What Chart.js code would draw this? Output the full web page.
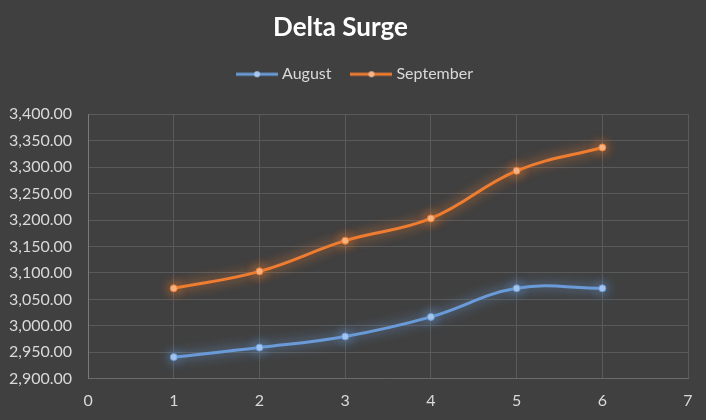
<!DOCTYPE html>
<html>
<head>
<meta charset="utf-8">
<script src="https://cdn.jsdelivr.net/npm/chart.js@4"></script>
<style>
  html, body { margin: 0; padding: 0; background: #404040; }
  #wrap { width: 706px; height: 420px; }
</style>
</head>
<body>
<div id="wrap"><canvas id="surgeChart"></canvas></div>
<script>
// chart data
const xValues = [1, 2, 3, 4, 5, 6];
const augustValues = [2941, 2959, 2980, 3017, 3071, 3071];
const septemberValues = [3071, 3103, 3161, 3203, 3293, 3337];
const seriesNames = ['August', 'September'];

const blue = '#6a9bd8';
const orange = '#ee7d31';

// little line+dot image for the legend
function legendMark(color, dot) {
  const c = document.createElement('canvas');
  c.width = 42; c.height = 10;
  const g = c.getContext('2d');
  g.strokeStyle = color;
  g.lineWidth = 3;
  g.beginPath(); g.moveTo(0, 5); g.lineTo(42, 5); g.stroke();
  g.fillStyle = dot;
  g.beginPath(); g.arc(21, 5, 3, 0, Math.PI * 2); g.fill();
  return c;
}

// soft glow behind each line
const glowPlugin = {
  id: 'glow',
  beforeDatasetDraw(chart, args) {
    const ds = chart.data.datasets[args.index];
    chart.ctx.save();
    chart.ctx.shadowColor = ds.borderColor;
    chart.ctx.shadowBlur = 12;
  },
  afterDatasetDraw(chart) {
    chart.ctx.restore();
  }
};

// extra room under the legend, and nudge it a bit right like the original
const legendSpacing = {
  id: 'legendSpacing',
  beforeInit(chart) {
    const fit = chart.legend.fit;
    chart.legend.fit = function() {
      fit.bind(chart.legend)();
      this.height += 22;
    };
  },
  afterLayout(chart) {
    chart.legend.left += 16;
    chart.legend.right += 16;
  }
};

const toPoints = vals => vals.map((v, i) => ({ x: xValues[i], y: v }));

new Chart(document.getElementById('surgeChart'), {
  type: 'line',
  data: {
    datasets: [{
      label: seriesNames[0],
      data: toPoints(augustValues),
      borderColor: blue,
      backgroundColor: blue,
      borderWidth: 3,
      tension: 0.4,
      pointRadius: 3.5,
      pointBackgroundColor: '#a9c7ee',
      pointBorderColor: blue,
      pointBorderWidth: 1,
      pointStyle: 'circle',
    }, {
      label: seriesNames[1],
      data: toPoints(septemberValues),
      borderColor: orange,
      backgroundColor: orange,
      borderWidth: 3,
      tension: 0.4,
      pointRadius: 3.5,
      pointBackgroundColor: '#f6b78a',
      pointBorderColor: orange,
      pointBorderWidth: 1,
      pointStyle: 'circle',
    }]
  },
  options: {
    responsive: true,
    maintainAspectRatio: false,
    animation: false,
    layout: { padding: { left: -7, right: 18, top: 2, bottom: -2 } },
    plugins: {
      title: {
        display: true,
        text: 'Delta Surge',
        color: '#ffffff',
        font: { family: 'Lato', size: 26, weight: 'bold' },
        padding: { top: 10, bottom: 0 }
      },
      legend: {
        labels: {
          color: '#d9d9d9',
          font: { family: 'Lato', size: 16 },
          usePointStyle: true,
          pointStyleWidth: 34,
          boxHeight: 10,
          padding: 23,
          generateLabels: function(chart) {
            return chart.data.datasets.map((ds, i) => ({
              text: ds.label,
              fontColor: '#d9d9d9',
              pointStyle: legendMark(ds.borderColor, ds.pointBackgroundColor),
              datasetIndex: i,
              hidden: false,
              lineWidth: 0,
            }));
          }
        }
      },
      tooltip: { enabled: false }
    },
    scales: {
      x: {
        type: 'linear',
        min: 0,
        max: 7,
        border: { display: true, color: '#6a6a6a' },
        grid: { color: '#5a5a5a', drawTicks: false },
        ticks: {
          stepSize: 1,
          color: '#d9d9d9',
          padding: 12,
          font: { family: 'Lato', size: 16 }
        }
      },
      y: {
        min: 2900,
        max: 3400,
        border: { display: true, color: '#7a7a7a' },
        grid: { color: '#5a5a5a', drawTicks: false },
        ticks: {
          stepSize: 50,
          color: '#d9d9d9',
          padding: 16,
          font: { family: 'Lato', size: 16 },
          callback: function(value) {
            return value.toLocaleString('en-US', { minimumFractionDigits: 2, maximumFractionDigits: 2 });
          }
        }
      }
    }
  },
  plugins: [glowPlugin, legendSpacing]
});
</script>
</body>
</html>
